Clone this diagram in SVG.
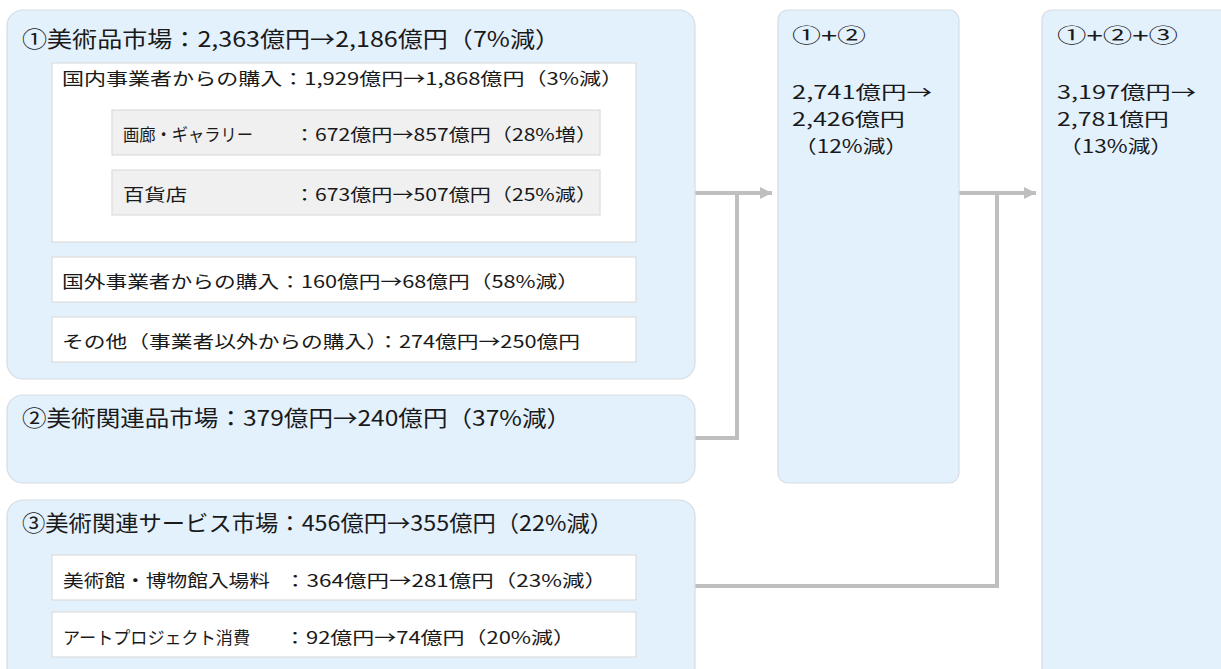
<svg xmlns="http://www.w3.org/2000/svg" width="1221" height="669" viewBox="0 0 1221 669">
<style>
.grp{fill:#e3f1fd;stroke:#d6dde4;stroke-width:1.2}
.wb{fill:#ffffff;stroke:#dcdcdc;stroke-width:1.2}
.gb{fill:#f0f0f0;stroke:#dcdcdc;stroke-width:1.2}
.t{font-family:"Noto Sans CJK JP","Noto Sans",sans-serif;fill:#1a1a1a}
.h{font-size:22px}
.s{font-size:17.5px}
.r{font-size:20px}
.v{font-size:18px}
.c{fill:none;stroke:#bfbfbf;stroke-width:4}
</style>
<defs>
<marker id="ah" viewBox="0 0 10 10" refX="10" refY="5" markerWidth="3" markerHeight="3.2" orient="auto" markerUnits="strokeWidth">
<path d="M0,0 L10,5 L0,10 z" fill="#bfbfbf"/>
</marker>
</defs>
<rect width="1221" height="669" fill="#ffffff"/>

<g id="connectors">
<path class="c" d="M695,193 H772" marker-end="url(#ah)"/>
<path class="c" d="M695,438 H737 V193"/>
<path class="c" d="M959,193 H1036" marker-end="url(#ah)"/>
<path class="c" d="M695,586 H997 V193"/>
</g>

<g id="market1">
<rect class="grp" x="7" y="10" width="688" height="369" rx="16"/>
<text class="t h" x="22" y="47" textLength="538" lengthAdjust="spacingAndGlyphs">①美術品市場：2,363億円→2,186億円（7%減）</text>
</g>
<g id="domestic">
<rect class="wb" x="52" y="63" width="584" height="179"/>
<text class="t s" x="62" y="85" textLength="561" lengthAdjust="spacingAndGlyphs">国内事業者からの購入：1,929億円→1,868億円（3%減）</text>
</g>
<g id="gallery">
<rect class="gb" x="112" y="110" width="488" height="45"/>
<text class="t s" x="123" y="141" textLength="130" lengthAdjust="spacingAndGlyphs">画廊・ギャラリー</text>
<text class="t s" x="294" y="141" textLength="303" lengthAdjust="spacingAndGlyphs">：672億円→857億円（28%増）</text>
</g>
<g id="dept">
<rect class="gb" x="112" y="170" width="488" height="45"/>
<text class="t s" x="123" y="201" textLength="64" lengthAdjust="spacingAndGlyphs">百貨店</text>
<text class="t s" x="294" y="201" textLength="303" lengthAdjust="spacingAndGlyphs">：673億円→507億円（25%減）</text>
</g>
<g id="foreign">
<rect class="wb" x="52" y="257" width="584" height="45"/>
<text class="t s" x="62" y="288" textLength="517" lengthAdjust="spacingAndGlyphs">国外事業者からの購入：160億円→68億円（58%減）</text>
</g>
<g id="other">
<rect class="wb" x="52" y="317" width="584" height="45"/>
<text class="t s" x="62" y="348" textLength="518" lengthAdjust="spacingAndGlyphs">その他（事業者以外からの購入）：274億円→250億円</text>
</g>

<g id="market2">
<rect class="grp" x="7" y="395" width="688" height="88" rx="16"/>
<text class="t h" x="22" y="426" textLength="549" lengthAdjust="spacingAndGlyphs">②美術関連品市場：379億円→240億円（37%減）</text>
</g>

<g id="market3">
<rect class="grp" x="7" y="500" width="688" height="190" rx="16"/>
<text class="t h" x="22" y="531" textLength="591" lengthAdjust="spacingAndGlyphs">③美術関連サービス市場：456億円→355億円（22%減）</text>
</g>
<g id="museum">
<rect class="wb" x="52" y="555" width="584" height="45"/>
<text class="t s" x="63" y="587" textLength="207" lengthAdjust="spacingAndGlyphs">美術館・博物館入場料</text>
<text class="t s" x="284" y="587" textLength="323" lengthAdjust="spacingAndGlyphs">：364億円→281億円（23%減）</text>
</g>
<g id="artproject">
<rect class="wb" x="52" y="612" width="584" height="45"/>
<text class="t s" x="63" y="644" textLength="187" lengthAdjust="spacingAndGlyphs">アートプロジェクト消費</text>
<text class="t s" x="284" y="644" textLength="291" lengthAdjust="spacingAndGlyphs">：92億円→74億円（20%減）</text>
</g>

<g id="sum12">
<rect class="grp" x="778" y="10" width="181" height="473" rx="10"/>
<text class="t r" x="792" y="43" textLength="74" lengthAdjust="spacingAndGlyphs">①+②</text>
<text class="t v" x="792" y="99" textLength="140" lengthAdjust="spacingAndGlyphs">2,741億円→</text>
<text class="t v" x="792" y="126" textLength="113" lengthAdjust="spacingAndGlyphs">2,426億円</text>
<text class="t v" x="794" y="153" textLength="114" lengthAdjust="spacingAndGlyphs">（12%減）</text>
</g>

<g id="sum123">
<rect class="grp" x="1042" y="10" width="200" height="680" rx="10"/>
<text class="t r" x="1057" y="43" textLength="121" lengthAdjust="spacingAndGlyphs">①+②+③</text>
<text class="t v" x="1057" y="99" textLength="139" lengthAdjust="spacingAndGlyphs">3,197億円→</text>
<text class="t v" x="1057" y="126" textLength="112" lengthAdjust="spacingAndGlyphs">2,781億円</text>
<text class="t v" x="1059" y="153" textLength="114" lengthAdjust="spacingAndGlyphs">（13%減）</text>
</g>
</svg>
